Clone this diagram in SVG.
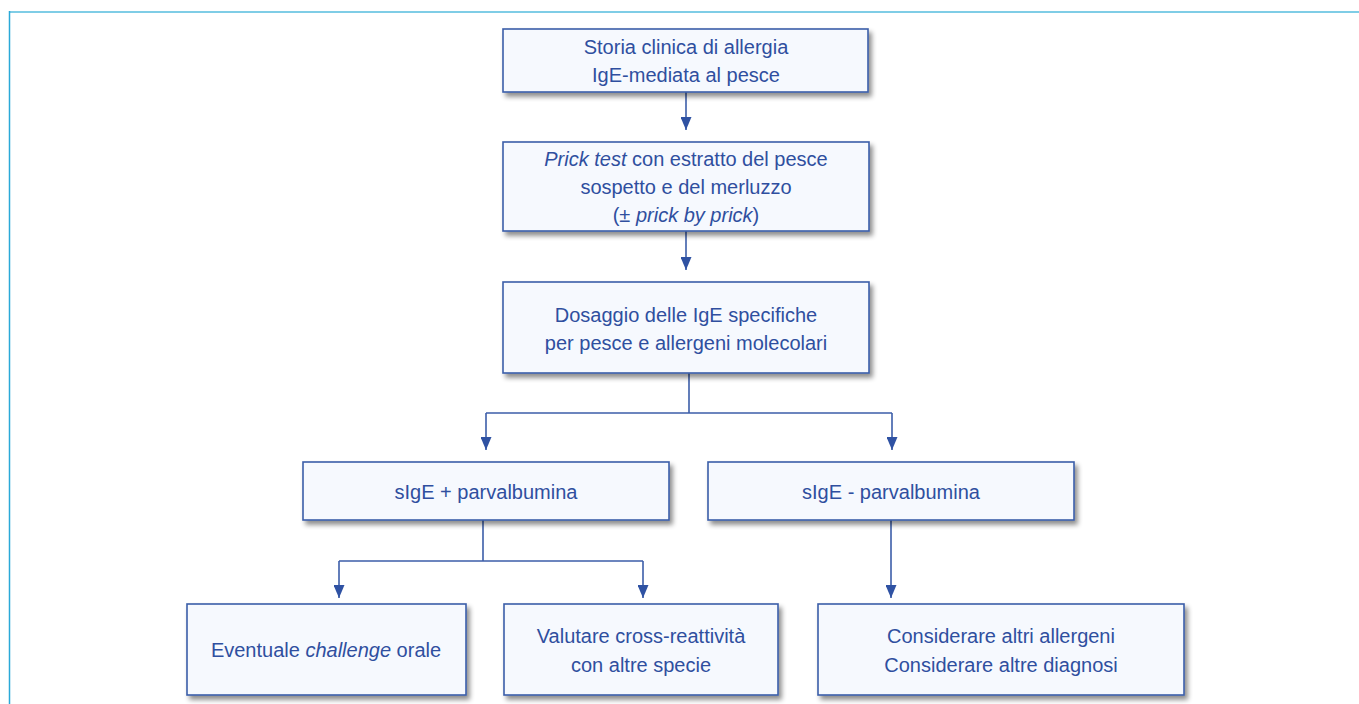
<svg xmlns="http://www.w3.org/2000/svg" width="1359" height="704" viewBox="0 0 1359 704">
<defs>
<filter id="sh" x="-10%" y="-20%" width="130%" height="150%">
<feGaussianBlur in="SourceAlpha" stdDeviation="2.5"/>
<feOffset dx="3" dy="4" result="b"/>
<feComponentTransfer><feFuncA type="linear" slope="0.45"/></feComponentTransfer>
<feMerge><feMergeNode/><feMergeNode in="SourceGraphic"/></feMerge>
</filter>
<marker id="ah" viewBox="0 0 13 11" refX="13" refY="5.5" markerWidth="13" markerHeight="11" markerUnits="userSpaceOnUse" orient="auto">
<path d="M0,0 L13,5.5 L0,11 Z" fill="#2f52a3"/>
</marker>
</defs>
<style>
.box{fill:#f6f9fe;stroke:#3c5ea9;stroke-width:1.6;filter:url(#sh)}
.t{font-family:"Liberation Sans",Arial,sans-serif;font-size:20px;fill:#2f4f9f;text-anchor:middle}
.i{font-style:italic}
.c{fill:none;stroke:#3c5ea9;stroke-width:1.6}
</style>
<rect width="1359" height="704" fill="#ffffff"/>
<g id="frame">
<line x1="9" y1="12" x2="1359" y2="12" stroke="#7fcde6" stroke-width="2"/>
<line x1="9.5" y1="11" x2="9.5" y2="704" stroke="#2aa9d8" stroke-width="1.5"/>
</g>
<g id="connectors">
<path class="c" d="M686,92 V130" marker-end="url(#ah)"/>
<path class="c" d="M686,231 V270" marker-end="url(#ah)"/>
<path class="c" d="M689,373 V413 M486,413 H892"/>
<path class="c" d="M486,413 V450" marker-end="url(#ah)"/>
<path class="c" d="M892,413 V450" marker-end="url(#ah)"/>
<path class="c" d="M483,520 V561 M339,561 H643"/>
<path class="c" d="M339,561 V598" marker-end="url(#ah)"/>
<path class="c" d="M643,561 V598" marker-end="url(#ah)"/>
<path class="c" d="M891,520 V598" marker-end="url(#ah)"/>
</g>
<g id="n1">
<rect class="box" x="503" y="29" width="365" height="63"/>
<text class="t" x="686" y="54">Storia clinica di allergia</text>
<text class="t" x="686" y="82">IgE-mediata al pesce</text>
</g>
<g id="n2">
<rect class="box" x="503" y="142" width="366" height="89"/>
<text class="t" x="686" y="166"><tspan class="i">Prick test</tspan> con estratto del pesce</text>
<text class="t" x="686" y="194">sospetto e del merluzzo</text>
<text class="t" x="686" y="222">(± <tspan class="i">prick by prick</tspan>)</text>
</g>
<g id="n3">
<rect class="box" x="503" y="282" width="366" height="91"/>
<text class="t" x="686" y="322">Dosaggio delle IgE specifiche</text>
<text class="t" x="686" y="350">per pesce e allergeni molecolari</text>
</g>
<g id="n4">
<rect class="box" x="303" y="462" width="366" height="58"/>
<text class="t" x="486" y="499">sIgE + parvalbumina</text>
</g>
<g id="n5">
<rect class="box" x="708" y="462" width="366" height="58"/>
<text class="t" x="891" y="499">sIgE - parvalbumina</text>
</g>
<g id="n6">
<rect class="box" x="187" y="604" width="279" height="91"/>
<text class="t" x="326" y="657">Eventuale <tspan class="i">challenge</tspan> orale</text>
</g>
<g id="n7">
<rect class="box" x="504" y="604" width="274" height="91"/>
<text class="t" x="641" y="643">Valutare cross-reattività</text>
<text class="t" x="641" y="672">con altre specie</text>
</g>
<g id="n8">
<rect class="box" x="818" y="604" width="366" height="91"/>
<text class="t" x="1001" y="643">Considerare altri allergeni</text>
<text class="t" x="1001" y="672">Considerare altre diagnosi</text>
</g>
</svg>
